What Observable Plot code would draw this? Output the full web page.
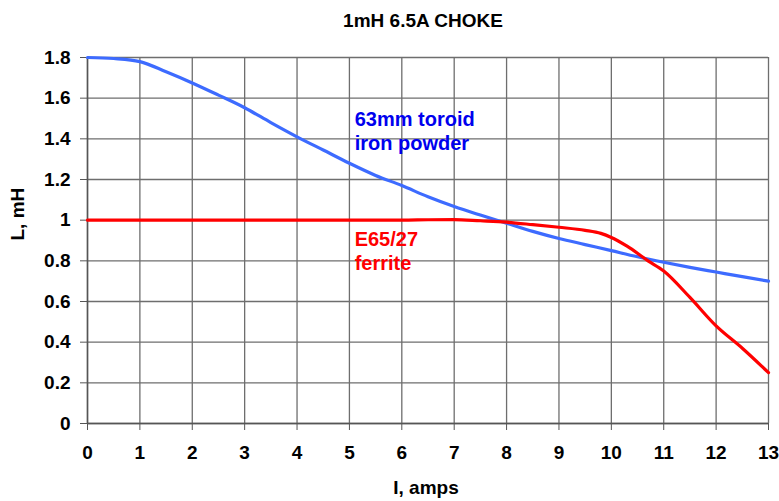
<!DOCTYPE html>
<html>
<head>
<meta charset="utf-8">
<script src="https://cdn.jsdelivr.net/npm/d3@7"></script>
<script src="https://cdn.jsdelivr.net/npm/@observablehq/plot@0.6"></script>
<style>
  html, body { margin: 0; padding: 0; background: #fff; }
  svg { display: block; }
</style>
</head>
<body>
<div id="chart"></div>
<script>
// Inductance vs DC current for two 1 mH chokes
const current = [0, 0.5, 1, 1.5, 2, 2.5, 3, 3.5, 4, 4.5, 5, 5.5, 6, 6.5, 7, 7.5, 8, 8.5, 9, 9.5, 10, 10.5, 11, 11.5, 12, 12.5, 13];
const toroidL = [1.80, 1.795, 1.78, 1.73, 1.675, 1.615, 1.553, 1.48, 1.41, 1.345, 1.28, 1.22, 1.17, 1.115, 1.067, 1.025, 0.985, 0.945, 0.91, 0.88, 0.85, 0.82, 0.793, 0.768, 0.745, 0.722, 0.70];

const ferriteI = [0, 1, 2, 3, 4, 5, 6, 6.5, 7, 7.5, 8, 8.5, 9, 9.5, 9.8, 10, 10.3, 10.7, 11, 11.5, 12, 12.5, 13];
const ferriteL = [1.0, 1.0, 1.0, 1.0, 1.0, 1.0, 1.0, 1.002, 1.003, 0.997, 0.99, 0.978, 0.965, 0.95, 0.935, 0.915, 0.872, 0.80, 0.75, 0.62, 0.48, 0.37, 0.25];

const xTicks = [0, 1, 2, 3, 4, 5, 6, 7, 8, 9, 10, 11, 12, 13];
const yTicks = [0, 0.2, 0.4, 0.6, 0.8, 1, 1.2, 1.4, 1.6, 1.8];

const title = "1mH 6.5A CHOKE";
const xLabel = "I, amps";
const yLabel = "L, mH";
const toroidName = "63mm toroid\niron powder";
const ferriteName = "E65/27\nferrite";

const toroid = current.map((i, k) => ({I: i, L: toroidL[k]}));
const ferrite = ferriteI.map((i, k) => ({I: i, L: ferriteL[k]}));

const font = "'Liberation Sans', Arial, Helvetica, sans-serif";

const chart = Plot.plot({
  width: 779,
  height: 501,
  marginLeft: 87,
  marginRight: 11,
  marginTop: 57,
  marginBottom: 78,
  style: {fontFamily: font, fontWeight: "bold", color: "#000", background: "#fff"},
  x: {domain: [0, 13]},
  y: {domain: [0, 1.8]},
  marks: [
    Plot.gridX(xTicks, {stroke: "#6e6e6e", strokeOpacity: 1, strokeWidth: 1.3}),
    Plot.gridY(yTicks, {stroke: "#6e6e6e", strokeOpacity: 1, strokeWidth: 1.3}),
    Plot.axisX(xTicks, {tickSize: 7, tickPadding: 15, fontSize: 19, fontWeight: "bold", stroke: "#555", label: null,
      tickFormat: d => String(d)}),
    Plot.axisY(yTicks, {tickSize: 7, tickPadding: 10, fontSize: 19, fontWeight: "bold", stroke: "#555", label: null,
      tickFormat: d => String(d)}),
    Plot.ruleX([0], {stroke: "#555", strokeWidth: 1.5}),
    Plot.ruleY([0], {stroke: "#555", strokeWidth: 1.5}),
    Plot.line(toroid, {x: "I", y: "L", stroke: "#3d6bff", strokeWidth: 3.2, curve: "monotone-x"}),
    Plot.line(ferrite, {x: "I", y: "L", stroke: "#ff0000", strokeWidth: 3.2, curve: "monotone-x"}),
    Plot.text([toroidName], {x: 5.1, y: 1.55, text: d => d, textAnchor: "start", lineAnchor: "top",
      fontSize: 20, fontWeight: "bold", fill: "#0000ee", lineHeight: 1.23}),
    Plot.text([ferriteName], {x: 5.1, y: 0.955, text: d => d, textAnchor: "start", lineAnchor: "top",
      fontSize: 20, fontWeight: "bold", fill: "#ff0000", lineHeight: 1.2}),
    Plot.text([title], {frameAnchor: "top", text: d => d, dx: -5, dy: -44, lineAnchor: "top",
      fontSize: 19, fontWeight: "bold", fill: "#000"}),
    Plot.text([xLabel], {frameAnchor: "bottom", text: d => d, dx: -2, dy: 57, lineAnchor: "top",
      fontSize: 19, fontWeight: "bold", fill: "#000"}),
    Plot.text([yLabel], {frameAnchor: "left", text: d => d, dx: -70, rotate: -90, lineAnchor: "middle",
      fontSize: 19, fontWeight: "bold", fill: "#000"})
  ]
});

document.getElementById("chart").appendChild(chart);
</script>
</body>
</html>
